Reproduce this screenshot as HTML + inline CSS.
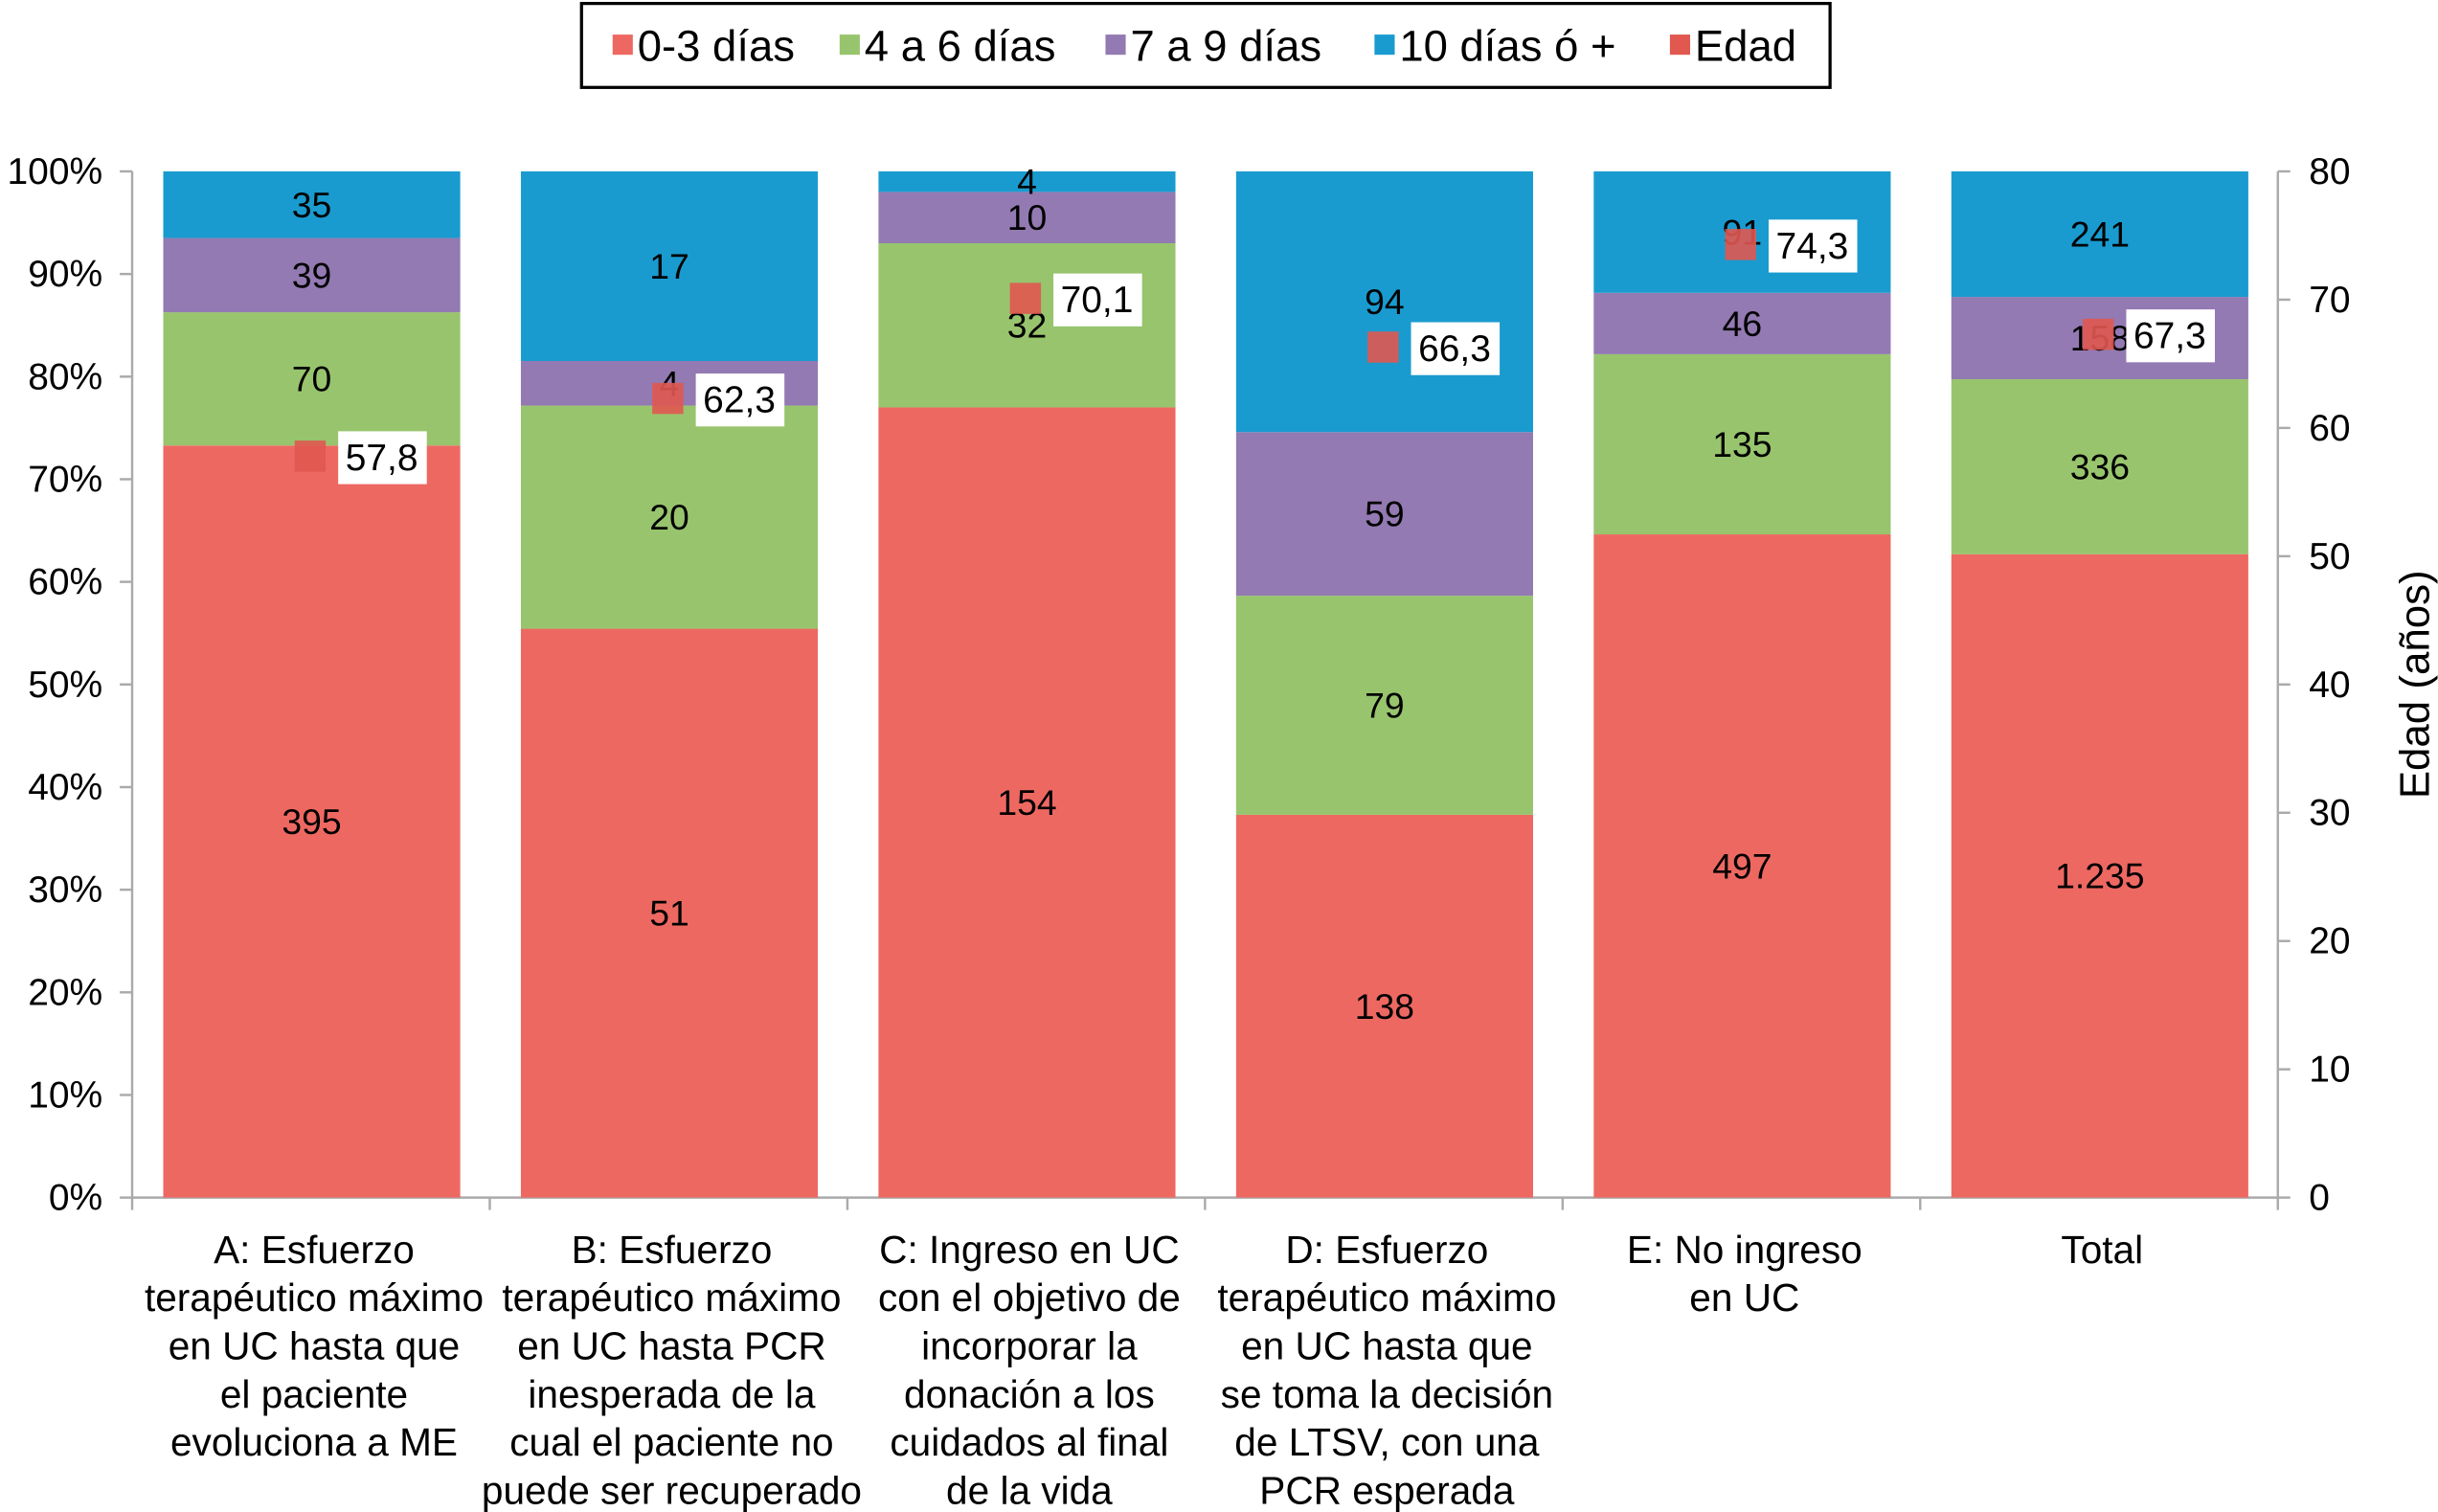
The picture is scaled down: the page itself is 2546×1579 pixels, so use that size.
<!DOCTYPE html>
<html><head><meta charset="utf-8"><style>
html,body{margin:0;padding:0;background:#fff;}
svg{display:block;font-family:"Liberation Sans",Arial,sans-serif;}
</style></head><body>
<svg id="chart" width="2546" height="1579" viewBox="0 0 1568 972" xmlns="http://www.w3.org/2000/svg">
<g id="legend">
<rect x="374" y="2" width="803" height="54" fill="#fff" stroke="#000" stroke-width="2"/>
</g>
<g id="axes"></g>
<g id="bars"></g>
<g id="labels"></g>
</svg>
<script>
const categories=[
 ["A: Esfuerzo","terapéutico máximo","en UC hasta que","el paciente","evoluciona a ME"],
 ["B: Esfuerzo","terapéutico máximo","en UC hasta PCR","inesperada de la","cual el paciente no","puede ser recuperado"],
 ["C: Ingreso en UC","con el objetivo de","incorporar la","donación a los","cuidados al final","de la vida"],
 ["D: Esfuerzo","terapéutico máximo","en UC hasta que","se toma la decisión","de LTSV, con una","PCR esperada"],
 ["E: No ingreso","en UC"],
 ["Total"]];
const days03=[395,51,154,138,497,1235];
const days46=[70,20,32,79,135,336];
const days79=[39,4,10,59,46,158];
const days10=[35,17,4,94,91,241];
const edad=[57.8,62.3,70.1,66.3,74.3,67.3];
const leftTicks=["0%","10%","20%","30%","40%","50%","60%","70%","80%","90%","100%"];
const rightTicks=[0,10,20,30,40,50,60,70,80];
const seriesNames=["0-3 días","4 a 6 días","7 a 9 días","10 días ó +","Edad"];
const colors=["#ee6862","#98c46d","#937ab2","#1a9bcf"];
const NS="http://www.w3.org/2000/svg";
const X0=85,X1=1465,YT=110,YB=770,catW=(X1-X0)/categories.length,barW=191;
const yP=p=>YB-(YB-YT)*p;
const yR=v=>YB-(YB-YT)*v/80;
const fmt=n=>n>=1000?String(n).replace(/\B(?=(\d{3})+$)/,"."):String(n);
function el(t,a,p,txt){const e=document.createElementNS(NS,t);for(const k in a)e.setAttribute(k,a[k]);if(txt!==undefined)e.textContent=txt;p.appendChild(e);return e;}
const axes=document.getElementById('axes'),bars=document.getElementById('bars'),labels=document.getElementById('labels'),legend=document.getElementById('legend');
const lx=[380,526,697,870,1060];
seriesNames.forEach((n,i)=>{
 const g=el('g',{},legend);
 
 
 el('rect',{x:lx[i]+14,y:22,width:13,height:13,fill:i<4?colors[i]:"#e05850"},g);
 el('text',{x:lx[i]+30,y:39,'font-size':28},g,n);
});
const ax=el('line',{x1:X0,y1:YT,x2:X0,y2:YB,stroke:"#aaa","stroke-width":1.5},axes);

const ax2=el('line',{x1:X1,y1:YT,x2:X1,y2:YB,stroke:"#aaa","stroke-width":1.5},axes);

const ax3=el('line',{x1:X0,y1:YB,x2:X1,y2:YB,stroke:"#aaa","stroke-width":1.5},axes);

leftTicks.forEach((t,i)=>{const y=yP(i/10);el('line',{x1:X0-8,y1:y,x2:X0,y2:y,stroke:"#aaa","stroke-width":1.5},axes);
 const tx=el('text',{x:66,y:y+8,'font-size':24,'text-anchor':'end'},axes,t);});
rightTicks.forEach(v=>{const y=yR(v);el('line',{x1:X1,y1:y,x2:X1+8,y2:y,stroke:"#aaa","stroke-width":1.5},axes);
 const tx=el('text',{x:1485,y:y+8,'font-size':24},axes,String(v));});
for(let i=0;i<=categories.length;i++){const x=X0+i*catW;el('line',{x1:x,y1:YB,x2:x,y2:YB+8,stroke:"#aaa","stroke-width":1.5},axes);}
const yt=el('text',{x:0,y:0,'font-size':27,'text-anchor':'middle',transform:'translate(1562,440) rotate(-90)'},axes,"Edad (años)");

const series=[days03,days46,days79,days10];
categories.forEach((c,i)=>{
 const tot=days03[i]+days46[i]+days79[i]+days10[i];
 const bx=X0+i*catW+20;let acc=0;
 series.forEach((s,k)=>{
  const y0=yP(acc/tot),y1=yP((acc+s[i])/tot);acc+=s[i];
  const r=el('rect',{x:bx,y:y1,width:barW,height:y0-y1,fill:colors[k]},bars);
  
  const t=el('text',{x:bx+barW/2,y:(y0+y1)/2+8,'font-size':23,'text-anchor':'middle'},labels,fmt(s[i]));
  
 });
 const cx=bx+barW/2-1,cy=yR(edad[i]);
 const m=el('rect',{x:cx-10,y:cy-10,width:20,height:20,fill:"#e05850",opacity:0.9},labels);
 
 const bg=el('rect',{x:cx+18,y:cy-16,width:57,height:34,fill:"#fff"},labels);
 
 const at=el('text',{x:cx+46,y:cy+9,'font-size':24,'text-anchor':'middle'},labels,String(edad[i]).replace('.',','));
 
 const g=el('g',{},axes);
 
 c.forEach((line,j)=>el('text',{x:X0+i*catW+catW/2+2,y:812+j*31,'font-size':25,'text-anchor':'middle'},g,line));
});
</script>
</body></html>
